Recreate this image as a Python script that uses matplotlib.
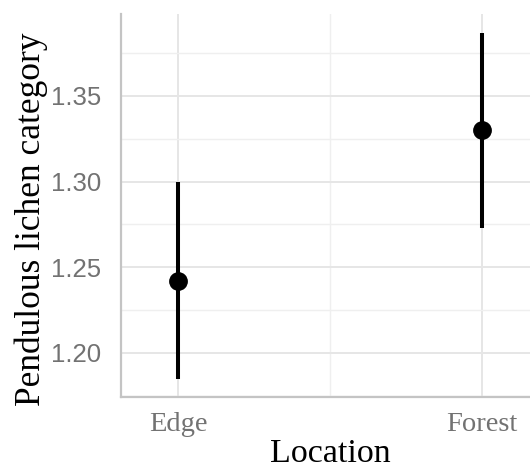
import matplotlib
matplotlib.use("Agg")
import matplotlib.pyplot as plt
from matplotlib.ticker import MultipleLocator, FixedLocator

locations = ["Edge", "Forest"]
means = [1.242, 1.330]
lower = [1.185, 1.273]
upper = [1.300, 1.387]

x = [1, 2]

fig = plt.figure(figsize=(5.3, 4.7), dpi=100)
ax = fig.add_axes([121 / 530, 1 - 397 / 470, 1 - 121 / 530, (397 - 14) / 470])

ax.vlines(x, lower, upper, color="black", linewidth=2.9, zorder=3)
ax.plot(x, means, "o", color="black", markersize=12.5, zorder=4)

ax.set_xlim(0.8125, 2.158)
ax.set_ylim(1.1743, 1.3978)

ax.set_xticks(x)
ax.set_xticklabels(locations)
ax.xaxis.set_minor_locator(FixedLocator([1.5]))
ax.yaxis.set_major_locator(MultipleLocator(0.05))
ax.yaxis.set_minor_locator(MultipleLocator(0.025))
ax.set_yticks([1.20, 1.25, 1.30, 1.35])

ax.grid(which="major", color="#e6e6e6", linewidth=1.4)
ax.grid(which="minor", color="#efefef", linewidth=1.0)
ax.set_axisbelow(True)

for side in ("top", "right"):
    ax.spines[side].set_visible(False)
for side in ("left", "bottom"):
    ax.spines[side].set_color("#c4c4c4")
    ax.spines[side].set_linewidth(1.6)

ax.tick_params(which="both", length=0)
ax.tick_params(axis="y", pad=14, labelsize=18.5, labelcolor="#727272")
ax.tick_params(axis="x", pad=11, labelsize=20.5, labelcolor="#727272")
for lab in ax.get_yticklabels():
    lab.set_fontfamily("Liberation Sans")
for lab in ax.get_xticklabels():
    lab.set_fontfamily("Liberation Serif")

# axis titles placed by hand: the reference is cropped tight at the bottom
fig.text(330.5 / 530, 0.5 / 470, "Location", fontfamily="Liberation Serif",
         fontsize=24.5, ha="center", va="bottom")
fig.text(31 / 530, 1 - 219 / 470, "Pendulous lichen category", fontfamily="Liberation Serif",
         fontsize=25.5, rotation=90, ha="center", va="center")

fig.savefig("out.png", dpi=100)
